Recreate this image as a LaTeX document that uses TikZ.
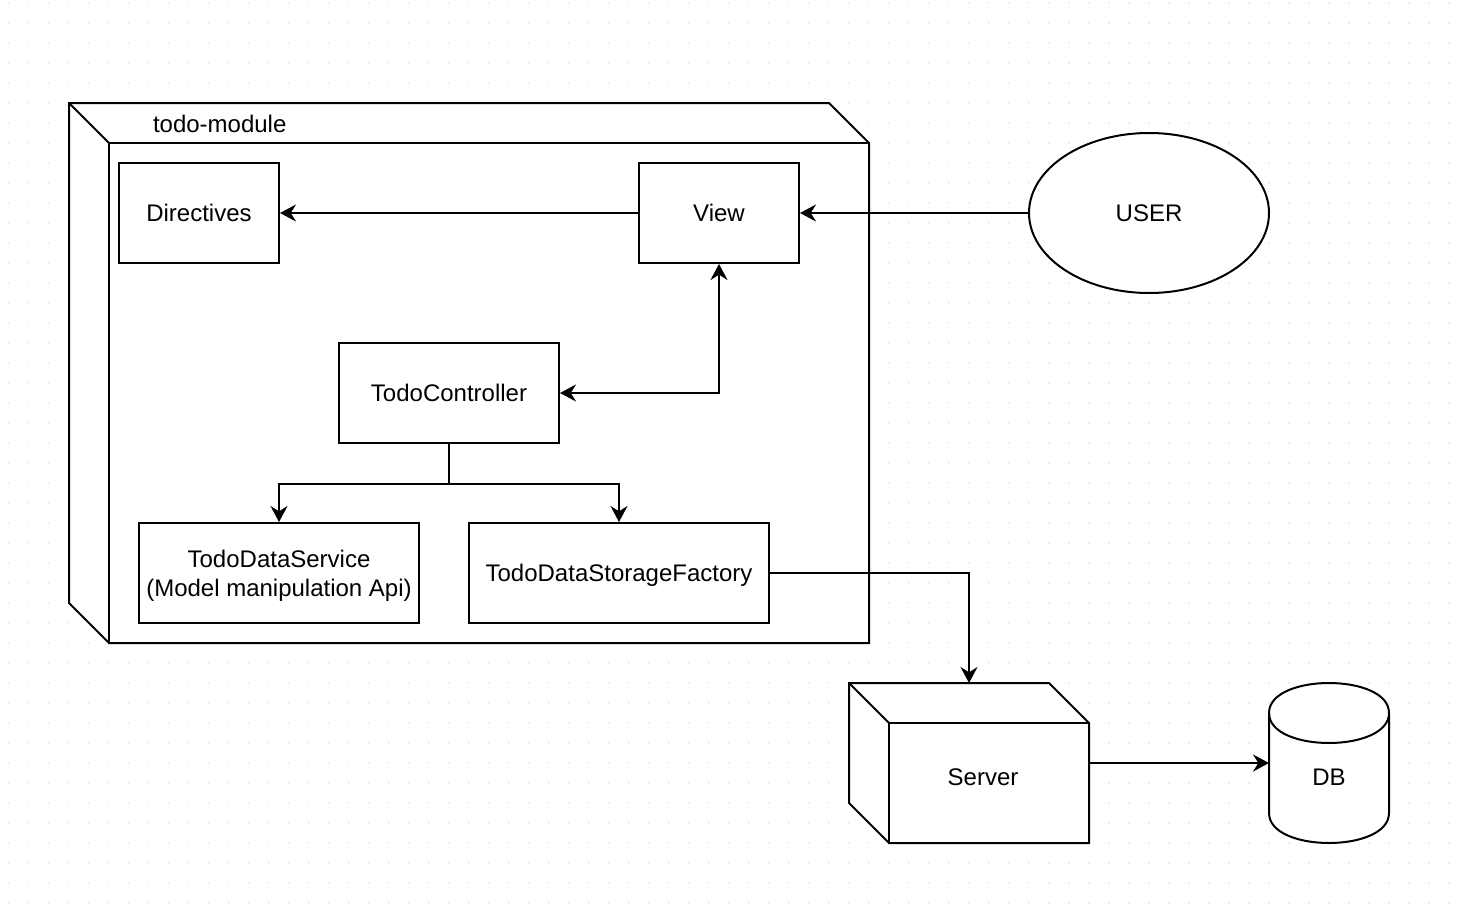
\documentclass[tikz,border=0pt]{standalone}
\usepackage{fontspec}
\setmainfont{Liberation Sans}
\usetikzlibrary{arrows.meta,shapes.geometric,calc}
\begin{document}
\begin{tikzpicture}[x=0.75pt,y=-0.75pt,line width=1.5pt,
  txt/.style={font=\fontsize{18pt}{21.6pt}\selectfont},
  lbl/.style={txt,inner sep=0pt,text height=12.9pt,text depth=0pt},
  box/.style={lbl,draw,fill=white,rectangle,minimum height=75pt},
  ghost/.style={inner sep=0pt,outer sep=0pt},
  tip/.tip={Stealth[length=12pt,width=12.75pt,inset=4pt]},
  arr/.style={-tip},
  biarr/.style={tip-tip},
  dotc/.style={fill=black!22}]
\useasboundingbox[fill=white] (0,0) rectangle (1462,906);
% dotted grid
\foreach \i in {0,...,72}{
  \foreach \j in {0,...,45}{
    \fill[dotc] (9+20*\i,3+20*\j) circle[radius=0.55pt];
  }
}
% todo-module (3D box)
\node[ghost,minimum width=600pt,minimum height=405pt] (module) at (469,373) {};
\draw[fill=white] (module.north west) -- ($(module.north east)+(-40,0)$) -- ($(module.north east)+(0,40)$)
  -- (module.south east) -- ($(module.south west)+(40,0)$) -- ($(module.south west)+(0,-40)$) -- cycle;
\draw ($(module.north west)+(40,40)$) rectangle (module.south east);
\draw (module.north west) -- ($(module.north west)+(40,40)$);
\node[txt,anchor=base west,inner sep=0pt] (modlabel) at (152,132) {todo-module};
% boxes
\node[box,minimum width=120pt] (dir) at (199,213) {Directives};
\node[box,minimum width=120pt] (view) at (719,213) {View};
\node[lbl,draw,fill=white,ellipse,minimum width=180pt,minimum height=120pt] (user) at (1149,213) {USER};
\node[box,minimum width=165pt] (ctrl) at (449,393) {TodoController};
\node[box,minimum width=210pt,align=center,text height=34.5pt,text depth=0pt] (svc) at (279,573) {TodoDataService\\(Model manipulation Api)};
\node[box,minimum width=225pt] (fac) at (619,573) {TodoDataStorageFactory};
% Server (3D box)
\node[ghost,minimum width=180pt,minimum height=120pt] (server) at (969,763) {};
\draw[fill=white] (server.north west) -- ($(server.north east)+(-40,0)$) -- ($(server.north east)+(0,40)$)
  -- (server.south east) -- ($(server.south west)+(40,0)$) -- ($(server.south west)+(0,-40)$) -- cycle;
\draw ($(server.north west)+(40,40)$) rectangle (server.south east);
\draw (server.north west) -- ($(server.north west)+(40,40)$);
\node[lbl] (servertext) at (983,777) {Server};
% DB (cylinder)
\node[ghost,minimum width=90pt,minimum height=120pt] (db) at (1329,763) {};
\begin{scope}[shift={(db.north west)}]
  \draw[fill=white] (0,30) .. controls (0,-10) and (120,-10) .. (120,30) -- (120,130)
    .. controls (120,170) and (0,170) .. (0,130) -- cycle;
  \draw (0,30) .. controls (0,70) and (120,70) .. (120,30);
\end{scope}
\node[lbl] (dbtext) at (1329,777) {DB};
% connectors
\draw[arr] (view.west) -- (dir.east);
\draw[arr] (user.west) -- (view.east);
\draw[biarr] (ctrl.east) -| (view.south);
\draw[arr] (ctrl.south) -- ++(0,40) -| (svc.north);
\draw[arr] (ctrl.south) -- ++(0,40) -| (fac.north);
\draw[arr] (fac.east) -| (server.north);
\draw[arr] (server.east) -- (db.west);
\end{tikzpicture}
\end{document}
